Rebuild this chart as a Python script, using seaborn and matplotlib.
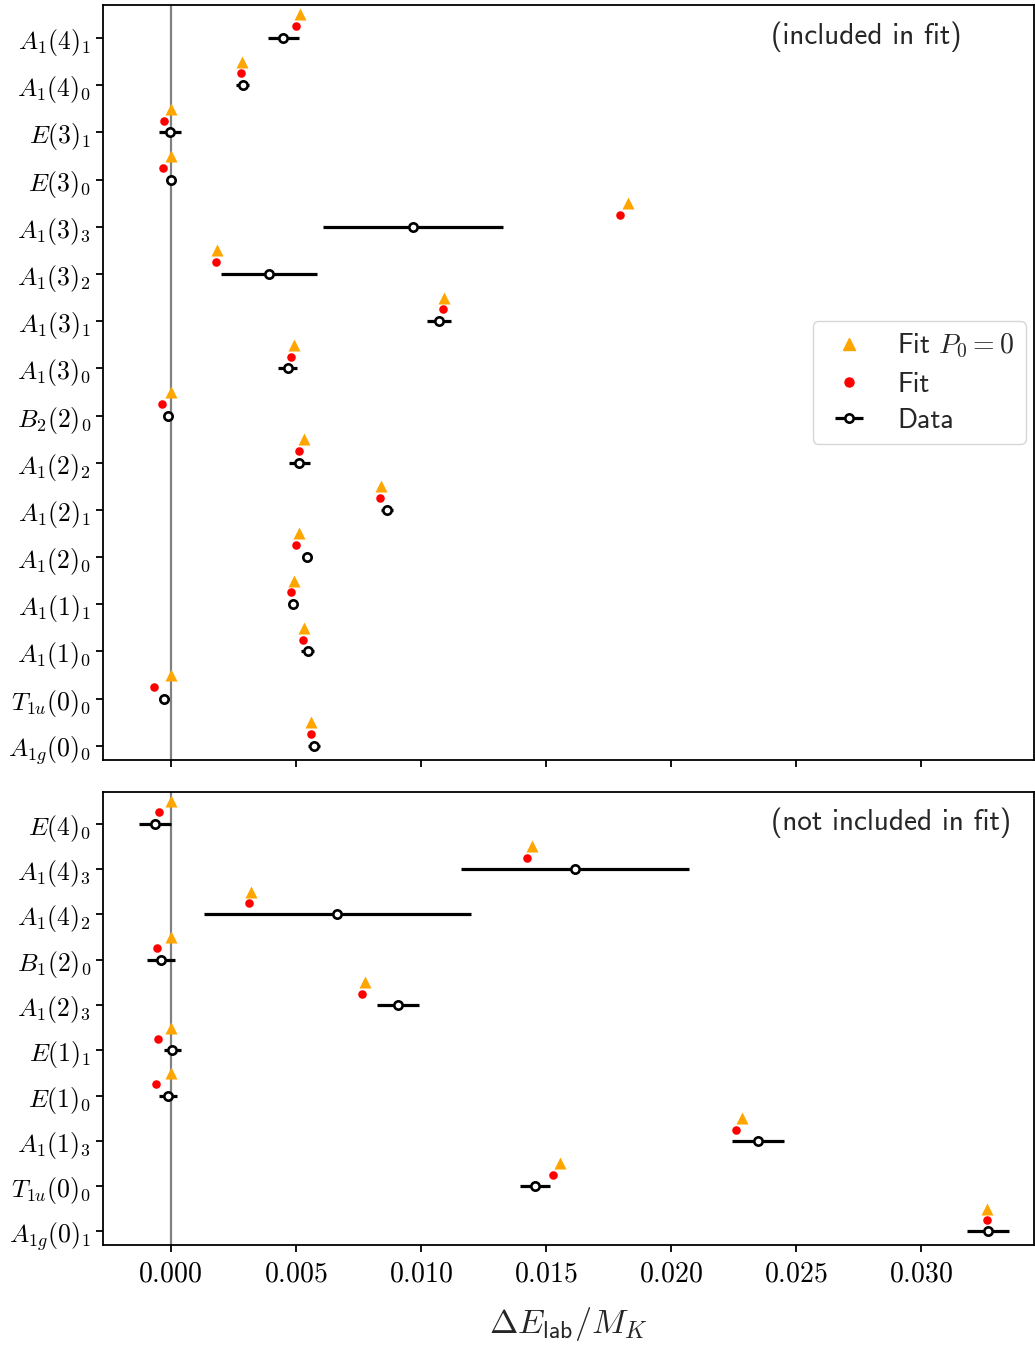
import matplotlib
matplotlib.use("Agg")
import matplotlib.pyplot as plt
import matplotlib.ticker as mticker
import seaborn as sns
import pandas as pd
import numpy as np

# levels listed top -> bottom, x values in units of M_K
TOP_LABELS = [r"$A_1(4)_1$", r"$A_1(4)_0$", r"$E(3)_1$", r"$E(3)_0$", r"$A_1(3)_3$", r"$A_1(3)_2$",
              r"$A_1(3)_1$", r"$A_1(3)_0$", r"$B_2(2)_0$", r"$A_1(2)_2$", r"$A_1(2)_1$", r"$A_1(2)_0$",
              r"$A_1(1)_1$", r"$A_1(1)_0$", r"$T_{1u}(0)_0$", r"$A_{1g}(0)_0$"]
TOP_DATA = [0.00451, 0.00288, -0.00003, 0.0, 0.00970, 0.00394, 0.01072, 0.00468,
            -0.00011, 0.00515, 0.00864, 0.00547, 0.00491, 0.00549, -0.00028, 0.00573]
TOP_ERR = [0.00063, 0.00026, 0.00044, 0.00014, 0.00360, 0.00193, 0.00048, 0.00038,
           0.00015, 0.00042, 0.00025, 0.00020, 0.00016, 0.00026, 0.00020, 0.00024]
TOP_FIT = [0.00503, 0.00283, -0.00028, -0.00032, 0.01795, 0.00182, 0.01090, 0.00481,
           -0.00035, 0.00515, 0.00838, 0.00503, 0.00480, 0.00529, -0.00068, 0.00562]
TOP_FIT0 = [0.00517, 0.00287, 0.0, 0.0, 0.01826, 0.00186, 0.01093, 0.00492,
            0.0, 0.00535, 0.00839, 0.00513, 0.00492, 0.00533, 0.0, 0.00561]

BOT_LABELS = [r"$E(4)_0$", r"$A_1(4)_3$", r"$A_1(4)_2$", r"$B_1(2)_0$", r"$A_1(2)_3$",
              r"$E(1)_1$", r"$E(1)_0$", r"$A_1(1)_3$", r"$T_{1u}(0)_0$", r"$A_{1g}(0)_1$"]
BOT_DATA = [-0.00064, 0.01617, 0.00667, -0.00038, 0.00909, 0.00007, -0.00011, 0.02349, 0.01456, 0.03265]
BOT_ERR = [0.00064, 0.00456, 0.00534, 0.00055, 0.00085, 0.00033, 0.00035, 0.00104, 0.00060, 0.00084]
BOT_FIT = [-0.00046, 0.01424, 0.00312, -0.00055, 0.00763, -0.00051, -0.00060, 0.02259, 0.01529, 0.03262]
BOT_FIT0 = [0.0, 0.01445, 0.00321, 0.0, 0.00775, 0.0, 0.0, 0.02283, 0.01555, 0.03262]

sns.set_style("ticks")
plt.rcParams.update({
    "font.family": ["cmss10", "DejaVu Sans"],
    "mathtext.fontset": "cm",
    "axes.linewidth": 1.3,
    "xtick.major.width": 1.3, "ytick.major.width": 1.3,
    "xtick.major.size": 5, "ytick.major.size": 5,
    "xtick.color": "black", "ytick.color": "black",
    "axes.edgecolor": "black",
    "axes.unicode_minus": False,
})

fig, (ax1, ax2) = plt.subplots(2, 1, figsize=(10.35, 13.47), dpi=100, sharex=True,
                               gridspec_kw={"height_ratios": [5, 3]})
fig.subplots_adjust(left=0.0995, right=0.999, top=0.9963, bottom=0.0757, hspace=0.053)


def draw_panel(ax, labels, data, err, fit, fit0, note):
    n = len(labels)
    df = pd.DataFrame({"y": np.arange(n)[::-1], "data": data, "err": err, "fit": fit, "fit0": fit0})
    ax.axvline(0, color="gray", lw=1.6, zorder=0)
    sns.scatterplot(x=df["fit0"], y=df["y"] + 0.5, ax=ax, marker="^", color="orange",
                    s=75, linewidth=0, zorder=3)
    sns.scatterplot(x=df["fit"], y=df["y"] + 0.25, ax=ax, marker="o", color="red",
                    s=38, linewidth=0, zorder=3)
    eb = ax.errorbar(df["data"], df["y"], xerr=df["err"], fmt="o", color="black", ms=6,
                     mfc="white", mec="black", mew=1.9, elinewidth=2.3, capsize=0, zorder=4)
    ax.set_yticks(df["y"])
    ax.set_yticklabels(labels, fontsize=18.5)
    ax.set_ylim(-0.3, n - 0.3)
    ax.set_xlabel("")
    ax.set_ylabel("")
    ax.text(0.024, n - 0.98, note, fontsize=21, va="center", ha="left")
    return eb


draw_panel(ax1, TOP_LABELS, TOP_DATA, TOP_ERR, TOP_FIT, TOP_FIT0, "(included in fit)")
eb = draw_panel(ax2, BOT_LABELS, BOT_DATA, BOT_ERR, BOT_FIT, BOT_FIT0, "(not included in fit)")

ax2.set_xlim(-0.0027, 0.0345)
ax2.xaxis.set_major_locator(mticker.MultipleLocator(0.005))
ax2.xaxis.set_major_formatter(mticker.FuncFormatter(lambda v, _: f"${v:.3f}$"))
ax2.tick_params(axis="x", labelsize=20, pad=7)
ax2.set_xlabel(r"$\Delta E_\mathsf{lab}/M_K$", fontsize=24.5, labelpad=13)

tri = plt.Line2D([], [], marker="^", color="orange", ls="none", ms=9)
dot = plt.Line2D([], [], marker="o", color="red", ls="none", ms=6.5)
ax1.legend([tri, dot, eb], [r"Fit $P_0=0$", "Fit", "Data"], loc="center right", fontsize=20,
           borderaxespad=0.3, handlelength=1.8, handletextpad=0.85, borderpad=0.4,
           labelspacing=0.4)

plt.savefig("out.png", dpi=100)
plt.close()
